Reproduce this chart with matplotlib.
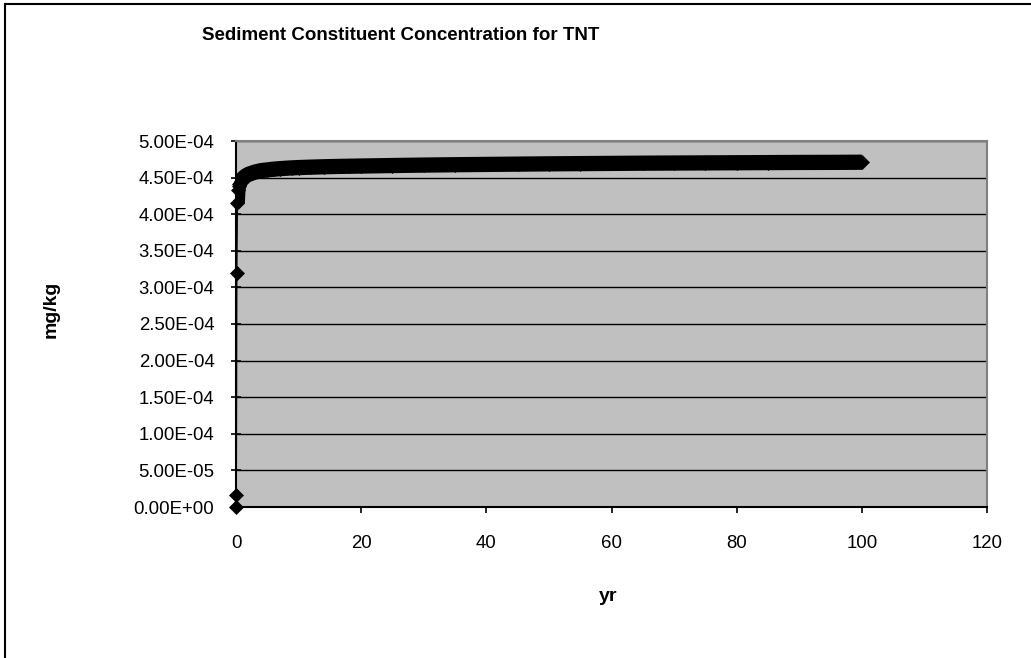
import matplotlib
matplotlib.use("Agg")
import matplotlib.pyplot as plt
from matplotlib.ticker import FuncFormatter, MultipleLocator
from matplotlib.patches import Rectangle

plt.rcParams['font.family'] = ['Liberation Sans', 'DejaVu Sans']

# TNT sediment concentration over time (mg/kg)
years = [0, 0.02, 0.1, 0.2, 0.3, 0.4, 0.5, 0.6, 0.8, 1, 1.25, 1.5, 2, 2.5, 3,
         4, 5, 6, 7, 8, 9, 10, 12, 14, 16, 18, 20, 25, 30, 35, 40, 45, 50,
         55, 60, 65, 70, 75, 80, 85, 90, 95, 100]
conc = [0.0, 1.6e-5, 3.2e-4, 4.15e-4, 4.33e-4, 4.38e-4, 4.41e-4, 4.43e-4,
        4.46e-4, 4.48e-4, 4.50e-4, 4.52e-4, 4.545e-4, 4.56e-4, 4.575e-4,
        4.595e-4, 4.605e-4, 4.615e-4, 4.622e-4, 4.628e-4, 4.633e-4, 4.637e-4,
        4.643e-4, 4.648e-4, 4.652e-4, 4.655e-4, 4.658e-4, 4.665e-4, 4.671e-4,
        4.676e-4, 4.680e-4, 4.684e-4, 4.688e-4, 4.691e-4, 4.694e-4, 4.697e-4,
        4.699e-4, 4.701e-4, 4.703e-4, 4.705e-4, 4.707e-4, 4.708e-4, 4.710e-4]

fig = plt.figure(figsize=(10.31, 6.58), dpi=100)
ax = fig.add_axes([236 / 1031, 1 - 507 / 658, 751 / 1031, 366 / 658])

# chart frame
fig.patches.append(Rectangle((5 / 1031, -0.05), 1.1, 1 - 4 / 658 + 0.05,
                             transform=fig.transFigure, fill=False,
                             edgecolor='black', linewidth=1.5))

ax.set_facecolor('#c0c0c0')
ax.plot(years, conc, color='black', linewidth=1.2, marker='D',
        markersize=7.5, markeredgewidth=0.5, zorder=3, clip_on=False)
# dense marker band once the curve levels off
ax.plot(years[3:], conc[3:], color='black', linewidth=11,
        solid_capstyle='butt', solid_joinstyle='round', zorder=3)

ax.set_xlim(0, 120)
ax.set_ylim(0, 5e-4)
ax.xaxis.set_major_locator(MultipleLocator(20))
ax.yaxis.set_major_locator(MultipleLocator(5e-5))
ax.yaxis.set_major_formatter(FuncFormatter(lambda v, p: f"{v:.2E}"))
ax.grid(axis='y', color='black', linewidth=1.0)
ax.set_axisbelow(True)

for s in ['left', 'bottom']:
    ax.spines[s].set_color('black')
    ax.spines[s].set_linewidth(1.5)
for s in ['top', 'right']:
    ax.spines[s].set_color('#808080')
    ax.spines[s].set_linewidth(1.5)

ax.tick_params(axis='y', direction='inout', length=7, width=1.2, pad=12,
               labelsize=13.4)
ax.tick_params(axis='x', direction='out', length=4, width=1.2, pad=16,
               labelsize=13.4)

fig.text(202 / 1031, 1 - 39.5 / 658, 'Sediment Constituent Concentration for TNT',
         fontsize=13.5, fontweight='bold', ha='left', va='baseline')
fig.text(51 / 1031, 1 - 309 / 658, 'mg/kg', fontsize=14, fontweight='bold',
         rotation=90, ha='center', va='center')
fig.text(608 / 1031, 1 - 601 / 658, 'yr', fontsize=14, fontweight='bold',
         ha='center', va='baseline')

fig.savefig('out.png', dpi=100)
